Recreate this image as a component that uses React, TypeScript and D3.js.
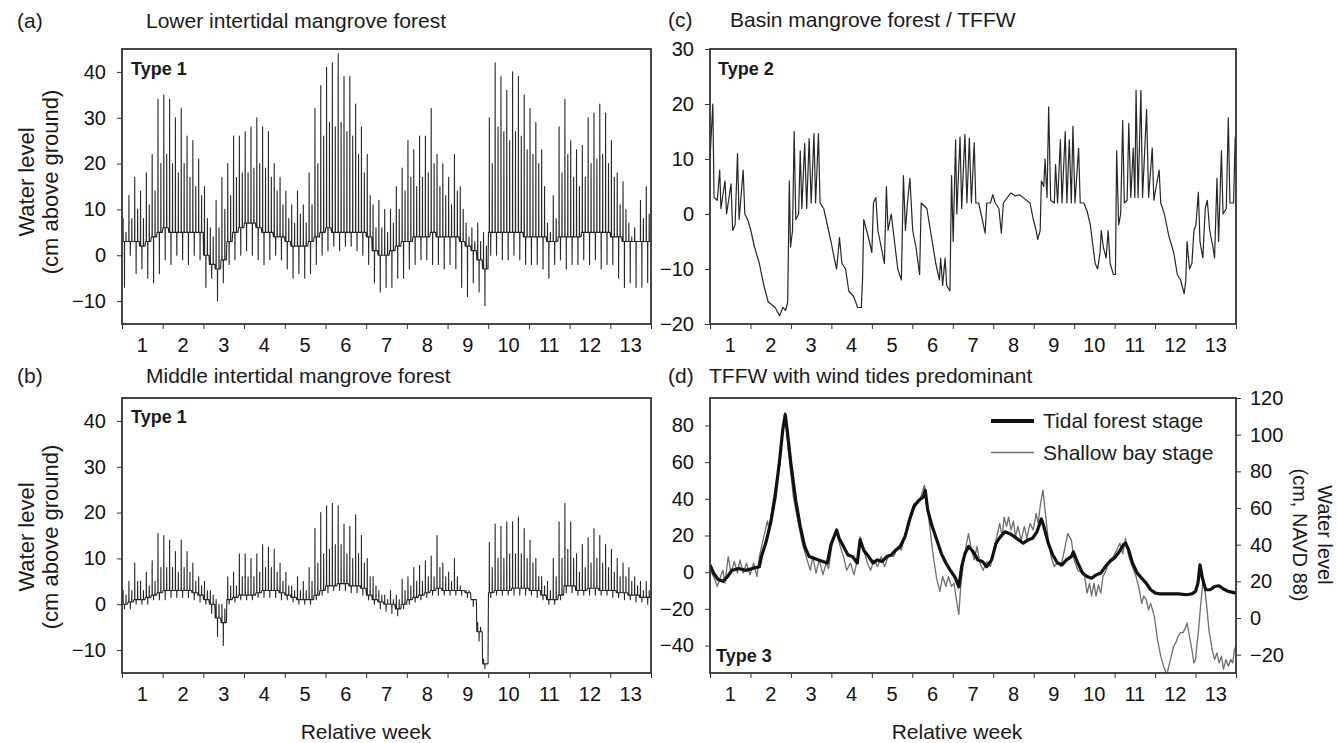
import * as d3 from "d3";
import { useEffect, useRef } from "react";

// Week labels, centred between the week ticks
const weekLabels = ["1", "2", "3", "4", "5", "6", "7", "8", "9", "10", "11", "12", "13"];

// Tick values
const yTicksAB = [-10, 0, 10, 20, 30, 40];
const yTicksC = [-20, -10, 0, 10, 20, 30];
const yTicksD = [-40, -20, 0, 20, 40, 60, 80];
const yTicksD2 = [-20, 0, 20, 40, 60, 80, 100, 120];

// (a) Lower intertidal mangrove forest, one value per day (91 days)
const aBase = [
  3, 3, 3, 2, 3, 4, 5, 6, 5, 5, 5, 5, 5, 5, 0, -2, -3, -1, 3, 5, 6,
  7, 7, 6, 5, 5, 4, 4, 3, 2, 2, 2, 3, 4, 5, 6, 5, 5, 5, 5, 5, 5,
  4, 1, 0, 0, 1, 2, 3, 3, 4, 4, 4, 5, 4, 4, 4, 4, 3, 2, 1, -1, -3,
  5, 5, 5, 5, 5, 5, 4, 4, 4, 4, 3, 3, 4, 4, 4, 4, 5, 5, 5, 5, 5,
  4, 4, 3, 3, 3, 3, 3,
];
const aHigh = [
  8, 13, 17, 14, 18, 22, 34, 35, 34, 30, 32, 26, 25, 21, 15, 6, 12, 17, 20, 26, 26,
  27, 28, 30, 28, 27, 20, 17, 14, 11, 14, 11, 18, 32, 37, 41, 42, 44, 39, 39, 33, 28,
  22, 11, 12, 10, 10, 15, 19, 25, 23, 26, 26, 32, 22, 20, 17, 22, 15, 7, 6, 7, 5,
  30, 42, 39, 36, 40, 39, 35, 32, 29, 23, 7, 13, 28, 34, 25, 23, 24, 30, 31, 33, 31,
  25, 18, 16, 7, 6, 12, 15,
];
const aHigh2 = [
  5, 8, 10, 8, 11, 14, 20, 22, 20, 18, 20, 17, 15, 13, 8, 4, 6, 10, 13, 17, 18,
  18, 19, 20, 19, 17, 14, 11, 8, 7, 9, 7, 11, 20, 26, 29, 28, 29, 27, 26, 22, 18,
  13, 6, 6, 5, 7, 10, 14, 17, 15, 17, 18, 20, 15, 13, 11, 14, 10, 4, 3, 3, 2,
  20, 28, 27, 25, 27, 26, 23, 22, 20, 15, 5, 8, 18, 22, 17, 15, 17, 20, 21, 22, 20,
  17, 11, 10, 4, 3, 8, 9,
];
const aLow = [
  -7, 0, -4, -3, -5, -6, -4, -1, -2, 0, -1, -2, 0, -1, -7, -5, -10, -6, -2, -1, 0,
  1, 0, -1, -2, -1, 0, -1, -3, -5, -4, -5, -4, -2, 0, 1, 2, 1, 2, 2, 1, 0,
  -2, -6, -8, -7, -7, -5, -5, -3, -2, -1, -1, -2, -2, -3, -2, -3, -7, -9, -6, -8, -11,
  0, 0, -1, -1, 0, -1, -2, -2, -2, -3, -5, -2, -1, -3, -2, -2, -1, -2, -1, -3, -2,
  -2, -5, -7, -6, -7, -7, -6,
];

// (b) Middle intertidal mangrove forest, one value per day (91 days)
const bBase = [
  0, 0.5, 1, 1, 1.5, 2, 2.5, 3, 3, 3, 3, 3, 2.5, 2, 1, 0, -3, -4, 1, 1.5, 2,
  2, 2, 2.5, 3, 3, 3, 2.5, 2, 1.5, 1, 1, 1, 2, 3, 4, 4, 4.5, 4.5, 4, 4, 3.5,
  2, 1, 0.5, 0, 0, -1, 0, 1, 1.5, 2, 2.5, 3, 3.5, 3, 3, 3, 3, 2.5, 1, -6, -13,
  2.5, 3, 3, 3, 3.5, 3.5, 3.5, 3, 3, 2, 1, 1, 2, 4, 4, 3, 3, 3.5, 3.5, 3, 3,
  3, 2.5, 2.5, 2, 2, 1.5, 1.5,
];
const bHigh = [
  3, 5, 9, 5, 7, 9.5, 15.5, 15, 14, 11.5, 14, 11.5, 9, 6, 5, 3, 1, 0, 6, 7, 11,
  11, 10, 11, 13, 12.5, 12, 9, 7, 4, 6, 5, 8, 16.5, 20, 21.5, 22, 21.5, 17.5, 17, 19.5, 15,
  10, 6, 3, 2, 3, 2, 5.5, 6, 8, 8.5, 9.5, 10.5, 15, 9, 7, 10, 4, 3, 1, -4, -12,
  13.5, 17.5, 17, 18, 18, 19, 16.5, 14, 10, 6, 5, 10, 18, 22, 18, 11, 13, 14.5, 16.5, 15, 13,
  12, 10, 9, 8, 6, 5, 5,
];
const bHigh2 = [
  2, 3, 5, 3, 4, 5, 8, 8, 8, 7, 8, 7, 5, 4, 3, 2, 0, -1, 4, 4, 6,
  6, 6, 7, 8, 8, 7, 5, 4, 3, 3, 3, 5, 9, 11, 12, 13, 13, 11, 10, 11, 9,
  6, 4, 2, 1, 1, 1, 3, 4, 5, 5, 6, 6, 8, 6, 5, 6, 3, 3, 1, -5, -13,
  8, 10, 10, 11, 11, 11, 10, 9, 6, 4, 3, 6, 10, 12, 10, 7, 8, 9, 10, 9, 8,
  7, 6, 6, 5, 4, 3, 3,
];
const bLow = [
  -1, -1, 0, 0, 0, 1, 1, 1, 1.5, 1.5, 1.5, 1.5, 1, 0.5, 0, -2, -7, -9, 0, 0.5, 1,
  1, 1, 1.5, 1.5, 1.5, 1.5, 1, 1, 0.5, 0, 0, 0, 1, 2, 2.5, 3, 3, 3, 2.5, 2.5, 2,
  1, 0, -1, -1.5, -2, -2.5, -1, 0, 0.5, 1, 1.5, 2, 2, 2, 2, 2, 2, 1.5, -0.5, -8, -14,
  1.5, 2, 2, 2, 2, 2, 2, 2, 1.5, 1, 0, 0, 1, 2.5, 2.5, 2, 2, 2, 2, 2, 2,
  1.5, 1.5, 1, 1, 0.5, 0.5, 0,
];

// (c) Basin mangrove forest / TFFW: [relative week, level]
const cSeries: [number, number][] = [
  [0, 10], [0.07, 20], [0.1, 3], [0.18, 2.5], [0.24, 8], [0.27, 1], [0.37, 6], [0.41, 0],
  [0.52, 5.5], [0.56, -3], [0.62, -2], [0.68, 11], [0.72, -1], [0.82, 8], [0.86, 0], [0.93, -1],
  [1.01, -3], [1.1, -6], [1.22, -9], [1.33, -13], [1.44, -16], [1.61, -17], [1.72, -18.5],
  [1.8, -17], [1.87, -17.5], [1.92, -16], [1.96, 6], [1.99, -6], [2.04, -3], [2.08, 15],
  [2.12, -1], [2.19, 0], [2.23, 11.5], [2.27, 1], [2.34, 12.8], [2.39, 1], [2.45, 13.7],
  [2.5, 2], [2.57, 14.6], [2.61, 2], [2.68, 14.6], [2.72, 2], [2.81, 1], [2.9, -2], [2.99, -5],
  [3.07, -8], [3.13, -10], [3.2, -4.3], [3.26, -9], [3.35, -10], [3.43, -14], [3.55, -15],
  [3.65, -17], [3.74, -17], [3.77, -12], [3.8, -1], [3.87, -3], [3.94, -5], [4.0, -7],
  [4.04, 2], [4.1, 3], [4.15, -3], [4.23, -6], [4.31, -9], [4.36, 5], [4.4, -3], [4.48, 0],
  [4.56, -5], [4.64, -10], [4.73, -12], [4.78, 7], [4.83, -3], [4.88, 2], [4.94, 6.5],
  [5.01, -3], [5.09, -6], [5.18, -11], [5.22, 2], [5.36, 1], [5.47, -4], [5.58, -9],
  [5.67, -12], [5.7, -8], [5.75, -13], [5.81, -8], [5.85, -13], [5.93, -14], [5.97, 7],
  [6.01, -5], [6.07, 13.5], [6.1, 0], [6.18, 14], [6.22, 1], [6.3, 14.5], [6.35, 2],
  [6.41, 13.8], [6.46, 2], [6.53, 13], [6.57, 2], [6.64, 2], [6.73, -1], [6.8, -3.5],
  [6.84, 2], [6.93, 2], [6.99, 3.5], [7.05, 2], [7.14, 1], [7.2, -3.5], [7.25, 2], [7.35, 3],
  [7.43, 3.8], [7.54, 3.3], [7.65, 3.5], [7.77, 2.8], [7.91, 2], [7.99, -1], [8.06, -3],
  [8.1, -4.6], [8.16, -3], [8.19, 6], [8.25, 5], [8.28, 10], [8.33, 3], [8.37, 19.5],
  [8.42, 2.5], [8.51, 2], [8.54, 9], [8.59, 2], [8.66, 13.5], [8.7, 2], [8.78, 15], [8.82, 2],
  [8.88, 13.5], [8.93, 2], [8.97, 16], [9.02, 2], [9.11, 12], [9.15, 2], [9.24, 2],
  [9.32, 0.5], [9.4, -2], [9.45, -5], [9.52, -9], [9.58, -10], [9.64, -7], [9.67, -3],
  [9.72, -6], [9.79, -8], [9.84, -3], [9.89, -9], [9.97, -11], [10.02, -11], [10.05, 11.5],
  [10.1, -2], [10.15, 0], [10.2, 17], [10.24, 2], [10.31, 2.5], [10.35, 16.5], [10.4, 3],
  [10.46, 12], [10.5, 3], [10.53, 22.5], [10.58, 3], [10.65, 22.5], [10.69, 3], [10.79, 19],
  [10.84, 3], [10.93, 12], [10.97, 2.5], [11.1, 8], [11.14, 2], [11.23, 0], [11.34, -4],
  [11.46, -7], [11.55, -11], [11.63, -12], [11.72, -14.5], [11.76, -12], [11.79, -5],
  [11.85, -10], [11.91, -9], [11.96, -3], [12.01, -2], [12.07, 4], [12.11, -5], [12.18, -8],
  [12.24, 1], [12.29, 2.5], [12.35, -3], [12.43, -6], [12.47, -8], [12.53, 6.5], [12.57, -5],
  [12.64, 11.5], [12.68, 0], [12.76, 1], [12.81, 17.5], [12.85, 2], [12.94, 2], [12.98, 14],
  [13, 10],
];

// (d) TFFW with wind tides: tidal forest stage [week, level]
const dForest: [number, number][] = [
  [0, 4], [0.09, -0.5], [0.2, -4], [0.32, -5], [0.43, -2.5], [0.54, 1], [0.71, 2], [0.88, 1],
  [1.05, 2], [1.22, 3], [1.27, 8.5], [1.38, 16], [1.5, 27], [1.61, 41], [1.72, 61], [1.8, 78],
  [1.86, 86], [1.91, 77], [2.0, 59], [2.12, 39], [2.23, 25], [2.34, 14], [2.45, 8.5],
  [2.57, 7.6], [2.68, 6.7], [2.79, 5.8], [2.9, 5], [2.99, 15], [3.13, 23], [3.19, 18.5],
  [3.3, 14], [3.41, 9.4], [3.52, 8.5], [3.64, 5], [3.71, 17.6], [3.8, 12], [3.92, 8.5],
  [4.03, 5], [4.14, 6.7], [4.25, 5.8], [4.37, 8.5], [4.48, 9.4], [4.59, 12], [4.7, 14],
  [4.82, 19.4], [4.93, 28.4], [5.04, 35.7], [5.15, 39], [5.27, 41], [5.32, 44.7], [5.38, 34],
  [5.49, 25], [5.6, 18], [5.72, 10], [5.83, 5], [5.94, 1], [6.06, -3], [6.15, -8], [6.22, 3],
  [6.3, 10], [6.39, 14], [6.51, 11], [6.62, 6.7], [6.73, 5.8], [6.84, 3], [6.96, 6.7],
  [7.07, 15.8], [7.18, 19.4], [7.29, 22], [7.41, 21], [7.52, 19.4], [7.63, 17.6], [7.74, 15.8],
  [7.86, 17.6], [7.97, 18.5], [8.08, 22], [8.19, 29], [8.25, 25], [8.36, 15.8], [8.47, 9.4],
  [8.59, 5], [8.7, 4], [8.81, 6.7], [8.93, 8.5], [8.98, 11], [9.09, 5], [9.21, -0.5],
  [9.32, -2.4], [9.43, -3.3], [9.54, -1.5], [9.66, -0.5], [9.77, 3], [9.88, 5.8], [9.99, 7.6],
  [10.11, 11], [10.22, 15], [10.27, 15.8], [10.35, 12], [10.44, 5], [10.56, -0.5],
  [10.67, -3.3], [10.78, -6], [10.89, -9.6], [11.01, -11.4], [11.12, -11.8], [11.34, -11.8],
  [11.57, -11.8], [11.79, -12.3], [11.91, -11.8], [12.0, -10.5], [12.06, -6], [12.11, 4],
  [12.17, -3.3], [12.25, -9.6], [12.36, -9.6], [12.47, -7.8], [12.58, -7.4], [12.69, -9.2],
  [12.81, -10.5], [12.92, -11], [13, -11.4],
];

// (d) shallow bay stage [week, level]
const dBay: [number, number][] = [
  [0, 1], [0.09, -2.4], [0.18, -7.8], [0.26, -2.4], [0.32, 1], [0.37, -6], [0.45, 8.5],
  [0.52, -0.5], [0.6, 5.8], [0.68, -0.5], [0.74, 6.7], [0.82, -0.5], [0.9, 5], [0.99, -1.5],
  [1.08, 5], [1.16, -2.4], [1.22, 8.5], [1.33, 19.4], [1.42, 28], [1.46, 23], [1.55, 37.5],
  [1.64, 50], [1.72, 57.4], [1.8, 77], [1.85, 87], [1.9, 75], [1.98, 57.4], [2.06, 41],
  [2.17, 28], [2.28, 15.8], [2.4, 6.7], [2.48, 1], [2.54, 8.5], [2.62, -0.5], [2.7, 6.7],
  [2.79, -1.5], [2.87, 5], [2.93, 2], [3.02, 15.8], [3.07, 19.4], [3.13, 21], [3.22, 14],
  [3.3, 8.5], [3.38, 1], [3.47, 5], [3.56, -1.5], [3.64, 6.7], [3.71, 19.4], [3.8, 12],
  [3.89, 5], [3.97, 1], [4.05, 6.7], [4.14, 3], [4.23, 8.5], [4.31, 3], [4.42, 9.4],
  [4.54, 8.5], [4.65, 14], [4.73, 12], [4.82, 20], [4.93, 30], [5.04, 37.5], [5.15, 37.5],
  [5.24, 43], [5.3, 47.5], [5.36, 37.5], [5.43, 25], [5.51, 10], [5.6, -3.3], [5.68, -10.5],
  [5.75, -2.4], [5.83, -7.8], [5.89, -2.4], [5.97, -7.8], [6.03, -6], [6.09, -15], [6.15, -23],
  [6.19, -9.6], [6.26, 5], [6.34, 15.8], [6.39, 21], [6.46, 12], [6.53, 6.7], [6.6, 14],
  [6.67, 5], [6.75, 1], [6.84, 5.8], [6.93, 3], [7.01, 12], [7.09, 19.4], [7.16, 26.6],
  [7.22, 19.4], [7.27, 30], [7.33, 25], [7.38, 30], [7.44, 23], [7.5, 28], [7.55, 19.4],
  [7.61, 25], [7.69, 17.6], [7.77, 25], [7.83, 18.5], [7.91, 26.6], [7.99, 23], [8.06, 32],
  [8.11, 26.6], [8.17, 37.5], [8.23, 44.7], [8.28, 34], [8.36, 17.6], [8.44, 7.6], [8.51, 3],
  [8.59, 5.8], [8.67, 3], [8.76, 12], [8.84, 21], [8.93, 17.6], [9.0, 6.7], [9.09, 1],
  [9.19, -0.5], [9.26, -2.4], [9.32, -11.4], [9.38, -6], [9.43, -13], [9.49, -6], [9.54, -13],
  [9.6, -7], [9.66, -11.4], [9.71, -2.4], [9.79, 1], [9.88, 6.7], [9.97, 8.5], [10.05, 12],
  [10.13, 15.8], [10.2, 10], [10.27, 18.5], [10.35, 8.5], [10.44, 3], [10.53, -2.4],
  [10.61, -9.6], [10.67, -17], [10.72, -13], [10.78, -15], [10.84, -20.5], [10.89, -17],
  [10.98, -24], [11.06, -36.8], [11.14, -45.8], [11.21, -51.3], [11.29, -56], [11.34, -51.3],
  [11.4, -45.8], [11.46, -40.4], [11.51, -38.6], [11.57, -35], [11.63, -33], [11.69, -33],
  [11.75, -30.4], [11.79, -27.7], [11.85, -35], [11.91, -42.2], [11.96, -49.5], [12.0, -47.6],
  [12.04, -38.6], [12.07, -33], [12.13, -17], [12.18, -6], [12.22, -7.8], [12.27, -17],
  [12.33, -31.3], [12.41, -42.2], [12.47, -47.6], [12.53, -44], [12.58, -49.5], [12.64, -45.8],
  [12.69, -53], [12.75, -47.6], [12.81, -51.3], [12.87, -47.6], [12.92, -49.5], [12.96, -42.2],
  [13, -40.4],
];

const FONT = "'Liberation Sans', Arial, Helvetica, sans-serif";
const INK = "#262626";

// Build a tide trace from daily base / high / second high / low values
function tideSeries(base: number[], high: number[], high2: number[], low: number[]) {
  const pts: [number, number][] = [];
  base.forEach((b, d) => {
    pts.push(
      [d + 0.04, b], [d + 0.17, b], [d + 0.19, high[d]], [d + 0.21, b],
      [d + 0.41, b], [d + 0.43, low[d]], [d + 0.45, b],
      [d + 0.67, b], [d + 0.69, high2[d]], [d + 0.71, b], [d + 0.96, b]
    );
  });
  return pts.map(([t, v]) => [t / 7, v] as [number, number]);
}

type Sel = d3.Selection<SVGSVGElement, undefined, null, undefined>;

function drawPanel(
  svg: Sel,
  id: string,
  x: d3.ScaleLinear<number, number>,
  y: d3.ScaleLinear<number, number>,
  ticks: number[]
) {
  const [x0, x1] = x.range();
  const [y1, y0] = y.range();
  const g = svg.append("g");

  g.append("clipPath").attr("id", id)
    .append("rect").attr("x", x0).attr("y", y0).attr("width", x1 - x0).attr("height", y1 - y0);

  g.append("g")
      .attr("transform", `translate(${x0},0)`)
      .attr("color", "#333")
      .call(d3.axisLeft(y).tickValues(ticks).tickSize(5).tickPadding(11))
      .call(a => a.select(".domain").remove())
      .call(a => a.selectAll("text").attr("font-size", 20).attr("font-family", FONT).attr("fill", "#111"));

  g.append("g")
      .attr("transform", `translate(0,${y1})`)
      .attr("color", "#333")
      .call(d3.axisBottom(x).tickValues(d3.range(0, 14)).tickSize(5).tickFormat(() => ""))
      .call(a => a.select(".domain").remove());

  g.append("g")
      .attr("font-family", FONT)
      .attr("font-size", 20)
      .attr("fill", "#111")
      .attr("text-anchor", "middle")
    .selectAll("text")
    .data(weekLabels)
    .join("text")
      .attr("x", (_, i) => x(i + 0.5))
      .attr("y", y1 + 28)
      .text(d => d);

  return g;
}

function frame(g: d3.Selection<SVGGElement, undefined, null, undefined>,
  x: d3.ScaleLinear<number, number>, y: d3.ScaleLinear<number, number>) {
  const [x0, x1] = x.range();
  const [y1, y0] = y.range();
  g.append("rect")
      .attr("x", x0).attr("y", y0)
      .attr("width", x1 - x0).attr("height", y1 - y0)
      .attr("fill", "none").attr("stroke", "#333").attr("stroke-width", 1.8);
}

function text(svg: Sel, x: number, y: number, s: string, size = 21, weight = "normal") {
  return svg.append("text")
      .attr("x", x).attr("y", y)
      .attr("font-family", FONT).attr("font-size", size)
      .attr("font-weight", weight).attr("fill", "#1a1a1a")
      .text(s);
}

function buildChart() {
  const width = 1337;
  const height = 743;

  const svg = d3.create("svg")
      .attr("width", width)
      .attr("height", height)
      .attr("viewBox", [0, 0, width, height])
      .style("display", "block")
      .style("background", "#fff") as Sel;

  const xL = d3.scaleLinear().domain([0, 13]).range([122, 651]);
  const xR = d3.scaleLinear().domain([0, 13]).range([710, 1236]);
  const yA = d3.scaleLinear().domain([-15, 45]).range([324, 49]);
  const yB = d3.scaleLinear().domain([-15, 45]).range([673, 398]);
  const yC = d3.scaleLinear().domain([-20, 30]).range([324, 49]);
  const yD = d3.scaleLinear().domain([-55, 95]).range([673, 398]);
  const yD2 = d3.scaleLinear().domain([-30, 120]).range([673, 398]);

  const line = (x: d3.ScaleLinear<number, number>, y: d3.ScaleLinear<number, number>) =>
    d3.line<[number, number]>().x(d => x(d[0])).y(d => y(d[1]));

  // (a)
  const gA = drawPanel(svg, "clipA", xL, yA, yTicksAB);
  gA.append("path")
      .datum(tideSeries(aBase, aHigh, aHigh2, aLow))
      .attr("clip-path", "url(#clipA)")
      .attr("fill", "none").attr("stroke", INK).attr("stroke-width", 1.1)
      .attr("stroke-linejoin", "round")
      .attr("d", line(xL, yA));
  frame(gA, xL, yA);

  // (b)
  const gB = drawPanel(svg, "clipB", xL, yB, yTicksAB);
  gB.append("path")
      .datum(tideSeries(bBase, bHigh, bHigh2, bLow))
      .attr("clip-path", "url(#clipB)")
      .attr("fill", "none").attr("stroke", INK).attr("stroke-width", 1.1)
      .attr("stroke-linejoin", "round")
      .attr("d", line(xL, yB));
  frame(gB, xL, yB);

  // (c)
  const gC = drawPanel(svg, "clipC", xR, yC, yTicksC);
  gC.append("path")
      .datum(cSeries)
      .attr("clip-path", "url(#clipC)")
      .attr("fill", "none").attr("stroke", INK).attr("stroke-width", 1.2)
      .attr("stroke-linejoin", "round")
      .attr("d", line(xR, yC));
  frame(gC, xR, yC);

  // (d)
  const gD = drawPanel(svg, "clipD", xR, yD, yTicksD);
  gD.append("g")
      .attr("transform", `translate(${xR.range()[1]},0)`)
      .attr("color", "#333")
      .call(d3.axisRight(yD2).tickValues(yTicksD2).tickSize(5).tickPadding(9))
      .call(a => a.select(".domain").remove())
      .call(a => a.selectAll("text").attr("font-size", 20).attr("font-family", FONT).attr("fill", "#111"));
  gD.append("path")
      .datum(dBay)
      .attr("clip-path", "url(#clipD)")
      .attr("fill", "none").attr("stroke", "#6e6e6e").attr("stroke-width", 1.3)
      .attr("stroke-linejoin", "round")
      .attr("d", line(xR, yD));
  gD.append("path")
      .datum(dForest)
      .attr("clip-path", "url(#clipD)")
      .attr("fill", "none").attr("stroke", "#111").attr("stroke-width", 3.2)
      .attr("stroke-linejoin", "round")
      .attr("d", line(xR, yD));
  frame(gD, xR, yD);

  // legend
  const legend = [
    { label: "Tidal forest stage", color: "#111", w: 4 },
    { label: "Shallow bay stage", color: "#6e6e6e", w: 1.5 },
  ];
  const lg = svg.append("g");
  legend.forEach((d, i) => {
    const ly = 421 + i * 31.5;
    lg.append("line").attr("x1", 991).attr("x2", 1034).attr("y1", ly).attr("y2", ly)
        .attr("stroke", d.color).attr("stroke-width", d.w);
    lg.append("text").attr("x", 1043).attr("y", ly).attr("dy", "0.35em")
        .attr("font-family", FONT).attr("font-size", 21).attr("fill", "#1a1a1a")
        .text(d.label);
  });

  // panel titles
  text(svg, 17, 28, "(a)");
  text(svg, 146, 28, "Lower intertidal mangrove forest");
  text(svg, 17, 383, "(b)");
  text(svg, 146, 383, "Middle intertidal mangrove forest");
  text(svg, 668, 27, "(c)");
  text(svg, 730, 27, "Basin mangrove forest / TFFW");
  text(svg, 668, 383, "(d)");
  text(svg, 709, 383, "TFFW with wind tides predominant");

  // type labels
  text(svg, 131, 75, "Type 1", 18, "bold");
  text(svg, 131, 423, "Type 1", 18, "bold");
  text(svg, 718, 75, "Type 2", 18, "bold");
  text(svg, 716, 662, "Type 3", 18, "bold");

  // axis titles
  const yLabel = (cx: number, cy: number, s: string, rot: number, size: number) =>
    svg.append("text")
        .attr("transform", `translate(${cx},${cy}) rotate(${rot})`)
        .attr("text-anchor", "middle")
        .attr("font-family", FONT).attr("font-size", size).attr("fill", "#1a1a1a")
        .text(s);
  yLabel(34, 182, "Water level", -90, 22);
  yLabel(58, 182, "(cm above ground)", -90, 22);
  yLabel(34, 537, "Water level", -90, 22);
  yLabel(58, 537, "(cm above ground)", -90, 22);
  yLabel(1318, 535, "Water level", 90, 20);
  yLabel(1293, 535, "(cm, NAVD 88)", 90, 20);

  text(svg, 366, 739, "Relative week").attr("text-anchor", "middle");
  text(svg, 957, 739, "Relative week").attr("text-anchor", "middle");

  return svg.node();
}

function App() {
  const divRef = useRef<HTMLDivElement | null>(null);
  useEffect(() => {
    if (divRef.current) {
      divRef.current.innerHTML = "";
      const node = buildChart();
      if (node) divRef.current.appendChild(node);
    }
  }, []);
  return <div ref={divRef} style={{ position: "absolute", left: 0, top: 0 }} />;
}

export default App;
